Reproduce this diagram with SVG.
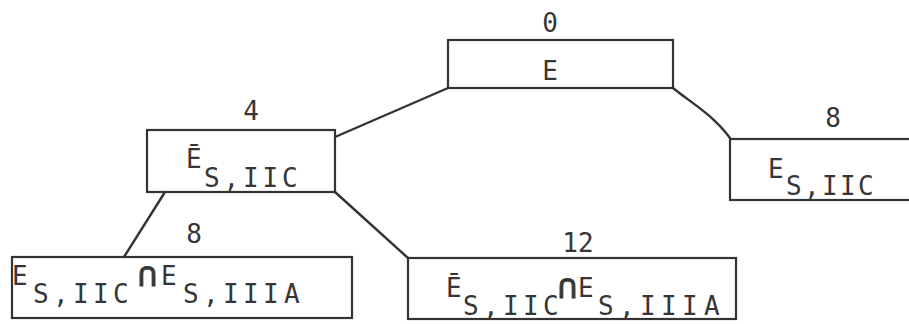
<svg xmlns="http://www.w3.org/2000/svg" width="909" height="324" viewBox="0 0 909 324">
<style>
.box{fill:none;stroke:#333333;stroke-width:2.2}
.lbl{font-family:"DejaVu Sans Mono","Liberation Mono",monospace;font-size:26px;fill:#363636}
.num{text-anchor:middle}
.cap{font-size:34px;stroke:#363636;stroke-width:0.8}
.edge{fill:none;stroke:#333333;stroke-width:2.4;stroke-linecap:round}
</style>
<rect width="909" height="324" fill="#ffffff"/>
<g id="connectors">
<path class="edge" d="M448,88 L335,137"/>
<path class="edge" d="M673,88 C690,102 712,114 730,138"/>
<path class="edge" d="M165,192 L124,257"/>
<path class="edge" d="M335,192 L408,258"/>
</g>
<g id="node-E">
<rect class="box" x="448" y="40" width="225" height="48"/>
<text class="lbl num" x="550" y="32">0</text>
<text class="lbl num" x="550" y="80">E</text>
</g>
<g id="node-notEsIIC">
<rect class="box" x="147" y="130" width="188" height="62"/>
<text class="lbl num" x="251" y="120">4</text>
<text class="lbl" y="168"><tspan x="186">Ē</tspan><tspan x="204 223.5 243 262.5 282" y="187">S,IIC</tspan></text>
</g>
<g id="node-EsIIC">
<rect class="box" x="730" y="139" width="200" height="61"/>
<text class="lbl num" x="833" y="127">8</text>
<text class="lbl" y="178"><tspan x="768">E</tspan><tspan x="786 804 822 840 858" y="195">S,IIC</tspan></text>
</g>
<g id="node-EsIIC-and-EsIIIA">
<rect class="box" x="12" y="257" width="340" height="61"/>
<text class="lbl num" x="194" y="243">8</text>
<text class="lbl" y="285"><tspan x="12">E</tspan><tspan x="33 53 73 93 113" y="303">S,IIC</tspan><tspan class="cap" x="137" y="286">∩</tspan><tspan x="161" y="285">E</tspan><tspan x="183 203 223 243 263 284" y="303">S,IIIA</tspan></text>
</g>
<g id="node-notEsIIC-and-EsIIIA">
<rect class="box" x="408" y="258" width="328" height="61"/>
<text class="lbl num" x="578" y="252">12</text>
<text class="lbl" y="297"><tspan x="446">Ē</tspan><tspan x="463 483 503 523 543" y="315">S,IIC</tspan><tspan class="cap" x="557" y="298">∩</tspan><tspan x="578" y="297">E</tspan><tspan x="598 619 640 661 682 704" y="315">S,IIIA</tspan></text>
</g>
</svg>
